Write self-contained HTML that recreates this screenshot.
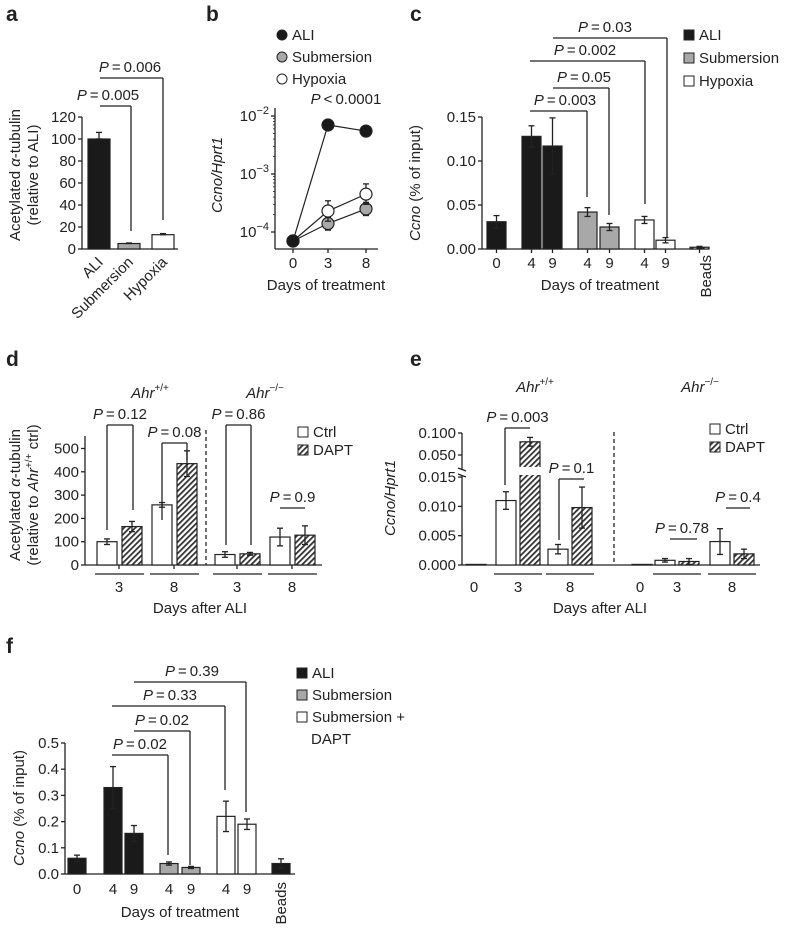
<!DOCTYPE html>
<html><head><meta charset="utf-8"><style>
body{margin:0;background:#fff}
svg{display:block;font-family:"Liberation Sans",sans-serif;font-size:15px}
.pl{font-weight:bold;font-size:21px}
</style></head><body>
<svg id="s" width="788" height="930" viewBox="0 0 788 930">
<defs><pattern id="hatch" width="4" height="4" patternUnits="userSpaceOnUse" patternTransform="rotate(45)"><rect width="4" height="4" fill="#fff"/><rect width="1.8" height="4" fill="#333"/></pattern></defs>
</svg>
<script>
// ---- Data ----
const aCats=["ALI","Submersion","Hypoxia"];
const aVals=[100,5,13];
const aErr=[6,0.5,1];
const aTicks=[0,20,40,60,80,100,120];
const bDays=[0,3,8];
const bALI=[7e-5,7e-3,5.5e-3];
const bSub=[7e-5,1.4e-4,2.5e-4];
const bHyp=[7e-5,2.3e-4,4.5e-4];
const bSubErr=[0,0.3,0.3];
const bHypErr=[0,0.5,0.5];
const cLabels=["0","4","9","4","9","4","9"];
const cVals=[0.031,0.128,0.117,0.042,0.025,0.033,0.010,0.002];
const cErr=[0.007,0.012,0.032,0.005,0.004,0.004,0.003,0.001];
const cTicks=[0,0.05,0.10,0.15];
const dCtrl=[100,258,45,120];
const dDapt=[165,435,48,128];
const dCtrlErr=[12,10,12,38];
const dDaptErr=[22,55,6,40];
const dTicks=[0,100,200,300,400,500];
const eCtrl=[0.0001,0.011,0.0027,0.0001,0.0008,0.004];
const eDapt=[null,0.08,0.0098,null,0.0006,0.0019];
const eCtrlErr=[0.0001,0.0015,0.0008,0.0001,0.0003,0.0022];
const eDaptErr=[0,0.01,0.0035,0,0.0005,0.0008];
const eTicksLow=[0,0.005,0.010,0.015];
const eTicksHigh=[0.050,0.100];
const fLabels=["0","4","9","4","9","4","9"];
const fVals=[0.06,0.33,0.155,0.04,0.025,0.22,0.19,0.04];
const fErr=[0.012,0.08,0.03,0.006,0.004,0.058,0.02,0.018];
const fTicks=[0,0.1,0.2,0.3,0.4,0.5];

const S=document.getElementById('s');const NS='http://www.w3.org/2000/svg';
function el(t,a,txt,p){const e=document.createElementNS(NS,t);for(const k in a)e.setAttribute(k,a[k]);if(txt!=null)e.innerHTML=txt;(p||S).appendChild(e);return e;}
function ln(x1,y1,x2,y2,extra){return el('line',Object.assign({x1,y1,x2,y2,stroke:'#222','stroke-width':1.3},extra||{}));}
function tx(x,y,s,anchor,extra){return el('text',Object.assign({x,y,'text-anchor':anchor||'middle',fill:'#222'},extra||{}),s);}
function bar(x,w,yTop,y0,fill,name){const r=el('rect',{x,y:yTop,width:w,height:Math.max(0,y0-yTop),fill,stroke:'#222','stroke-width':1.2});return r;}
function err(x,yv,yLo,yHi){ln(x,yLo,x,yHi);ln(x-3,yHi,x+3,yHi);ln(x-3,yLo,x+3,yLo);}
function bracket(x1,x2,y,d1,d2,label,tx0){ln(x1,y,x2,y);if(d1!=null)ln(x1,y,x1,d1);if(d2!=null)ln(x2,y,x2,d2);tx(tx0!=null?tx0:(x1+x2)/2,y-6,'<tspan font-style="italic">P</tspan>\u2009=\u2009'+label,'middle');}
function ytitle(x,y,s){return el('text',{x:0,y:0,transform:`translate(${x},${y}) rotate(-90)`,'text-anchor':'middle',fill:'#222'},s);}
function legSq(x,y,fill,label){const g=el('g',{});el('rect',{x,y:y-10,width:10,height:10,fill,stroke:'#222','stroke-width':1},null,g);el('text',{x:x+15,y,fill:'#222'},label,g);}
function legCirc(x,y,fill,label){const g=el('g',{});el('circle',{cx:x+5,cy:y-5,r:5,fill,stroke:'#222','stroke-width':1},null,g);el('text',{x:x+15,y,fill:'#222'},label,g);}
const colors={ali:'#1a1a1a',sub:'#a8a8a8',hyp:'#fff'};

// ---- Panel a ----
tx(6,21,'a','start',{class:'pl'});
{const y=v=>249-v*(132/120);const ax=82;
ln(ax,y(120),ax,y(0));ln(ax,y(0),178,y(0));
aTicks.forEach(t=>{ln(ax-4,y(t),ax,y(t));tx(ax-6,y(t)+5,t,'end');});
const xs=[88,118,152],fills=[colors.ali,colors.sub,colors.hyp];
aVals.forEach((v,i)=>{bar(xs[i],22,y(v),y(0),fills[i],'bar-'+aCats[i].toLowerCase());err(xs[i]+11,0,y(v),y(v+aErr[i]));
 el('text',{x:0,y:0,transform:`translate(${xs[i]+16},${y(0)+14}) rotate(-45)`,'text-anchor':'end',fill:'#222'},aCats[i]);});
bracket(100,131,106,null,231,'0.005',108);bracket(100,163,78,null,220,'0.006',130);
ytitle(20,175,'Acetylated <tspan font-style="italic">α</tspan>-tubulin');ytitle(38,175,'(relative to ALI)');}

// ---- Panel b ----
tx(206,21,'b','start',{class:'pl'});
{const y=v=>232-(Math.log10(v)+4)*58;const x=d=>[293,328,366][bDays.indexOf(d)];const ax=275;
ln(ax,108,ax,249);ln(ax,249,378,249);
[-4,-3,-2].forEach(p=>{ln(ax-4,y(Math.pow(10,p)),ax,y(Math.pow(10,p)));tx(ax-6,y(Math.pow(10,p))+5,'10<tspan dy="-7" font-size="11">−'+(-p)+'</tspan>','end');
 for(let k=2;k<10&&p<-2;k++)ln(ax-2,y(k*Math.pow(10,p)),ax,y(k*Math.pow(10,p)),{'stroke-width':0.8});});
bDays.forEach(d=>{ln(x(d),249,x(d),253);tx(x(d),268,d);});
tx(326,290,'Days of treatment');
el('text',{x:0,y:0,transform:'translate(222,175) rotate(-90)','text-anchor':'middle',fill:'#222','font-style':'italic'},'Ccno/Hprt1');
const series=[[bSub,colors.sub,bSubErr,'submersion'],[bHyp,colors.hyp,bHypErr,'hypoxia'],[bALI,colors.ali,null,'ali']];
series.forEach(([vals,f,e,n])=>{const pts=vals.map((v,i)=>x(bDays[i])+','+y(v)).join(' ');
 const pl=el('polyline',{points:pts,fill:'none',stroke:'#222','stroke-width':1.2});
 vals.forEach((v,i)=>{if(e&&e[i]){err(x(bDays[i]),0,y(v/(1+e[i])),y(v*(1+e[i])));}
  const c=el('circle',{cx:x(bDays[i]),cy:y(v),r:6,fill:f,stroke:'#222','stroke-width':1.2});});});
tx(346,104,'<tspan font-style="italic">P</tspan>\u2009&lt;\u20090.0001');
legCirc(277,40,colors.ali,'ALI');legCirc(277,62,colors.sub,'Submersion');legCirc(277,84,colors.hyp,'Hypoxia');}

// ---- Panel c ----
tx(410,21,'c','start',{class:'pl'});
{const y=v=>249-v*(132/0.15);const ax=482;
ln(ax,y(0.15),ax,y(0));ln(ax,y(0),708,y(0));
cTicks.forEach(t=>{ln(ax-4,y(t),ax,y(t));tx(ax-6,y(t)+5,t.toFixed(2),'end');});
const xs=[487,522,543,578,600,635,656,690],fills=[colors.ali,colors.ali,colors.ali,colors.sub,colors.sub,colors.hyp,colors.hyp,'url(#hatch)'];
cVals.forEach((v,i)=>{bar(xs[i],19,y(v),y(0),fills[i],'bar-c-'+i);err(xs[i]+9.5,0,y(v-cErr[i]),y(v+cErr[i]));ln(xs[i]+9.5,249,xs[i]+9.5,253);
 if(i<7)tx(xs[i]+9.5,268,cLabels[i]);});
el('text',{x:0,y:0,transform:'translate(711,255) rotate(-90)','text-anchor':'end',fill:'#222'},'Beads');
tx(600,290,'Days of treatment');
ytitle(420,183,'<tspan font-style="italic">Ccno</tspan> (% of input)');
bracket(530,587,111,null,197,'0.003',565);bracket(553,609,88,null,215,'0.05',584);
bracket(530,645,61,null,204,'0.002',585);bracket(553,667,38,null,237,'0.03',605);
legSq(684,40,colors.ali,'ALI');legSq(684,63,colors.sub,'Submersion');legSq(684,86,colors.hyp,'Hypoxia');}

// ---- Panel d ----
tx(6,366,'d','start',{class:'pl'});
{const y=v=>565-v*0.233;const ax=85;
ln(ax,436,ax,565);ln(ax,565,322,565);
dTicks.forEach(t=>{ln(ax-4,y(t),ax,y(t));tx(ax-6,y(t)+5,t,'end');});
const xc=[97,152,215,270];
dCtrl.forEach((v,i)=>{bar(xc[i],20,y(v),565,'#fff','bar-d-ctrl-'+i);err(xc[i]+10,0,y(v-dCtrlErr[i]),y(v+dCtrlErr[i]));
 bar(xc[i]+25,20,y(dDapt[i]),565,'url(#hatch)','bar-d-dapt-'+i);err(xc[i]+35,0,y(dDapt[i]-dDaptErr[i]),y(dDapt[i]+dDaptErr[i]));
 ln(xc[i]-2,574,xc[i]+47,574);tx(xc[i]+22,592,['3','8','3','8'][i]);ln(xc[i]+22,565,xc[i]+22,569);});
ln(206,430,206,565,{'stroke-dasharray':'4,3'});
tx(200,613,'Days after ALI');
tx(150,398,'<tspan font-style="italic">Ahr</tspan><tspan dy="-7" font-size="10">+/+</tspan>');
tx(265,398,'<tspan font-style="italic">Ahr</tspan><tspan dy="-7" font-size="10">−/−</tspan>');
bracket(107,133,425,530,510,'0.12');bracket(162,187,443,520,460,'0.08');
bracket(226,251,425,545,545,'0.86');
bracket(280,305,508,null,null,'0.9');
ytitle(20,495,'Acetylated <tspan font-style="italic">α</tspan>-tubulin');
ytitle(38,495,'(relative to <tspan font-style="italic">Ahr</tspan><tspan dy="-6" font-size="10">+/+</tspan><tspan dy="6"> ctrl)</tspan>');
legSq(298,437,'#fff','Ctrl');legSq(298,455,'url(#hatch)','DAPT');}

// ---- Panel e ----
tx(410,366,'e','start',{class:'pl'});
{const yl=v=>565-v*(29.3/0.005);const yh=v=>433+(0.1-v)*(22/0.05);const y=v=>v>0.02?yh(v):yl(v);const ax=462;
ln(ax,433,ax,470);ln(ax,476,ax,565);ln(ax-4,468,ax+4,471);ln(ax-4,474,ax+4,477);ln(ax,565,760,565);
eTicksLow.forEach(t=>{ln(ax-4,yl(t),ax,yl(t));tx(ax-6,yl(t)+5,t.toFixed(3),'end');});
eTicksHigh.forEach(t=>{ln(ax-4,yh(t),ax,yh(t));tx(ax-6,yh(t)+5,t.toFixed(3),'end');});
const xc=[466,496,548,632,655,710],lbl=['0','3','8','0','3','8'];
eCtrl.forEach((v,i)=>{bar(xc[i],20,y(v),565,'#fff','bar-e-ctrl-'+i);if(i%3)err(xc[i]+10,0,y(v-eCtrlErr[i]),y(v+eCtrlErr[i]));
 if(eDapt[i]!=null){const d=eDapt[i];bar(xc[i]+24,20,y(d),565,'url(#hatch)','bar-e-dapt-'+i);err(xc[i]+34,0,y(d-eDaptErr[i]),y(d+eDaptErr[i]));}
 if(i%3){ln(xc[i]-2,574,xc[i]+46,574);tx(xc[i]+22,592,lbl[i]);}else tx(xc[i]+8,592,lbl[i]);});
el('rect',{x:516,y:467,width:26,height:8,fill:'#fff'});
ln(614,432,614,565,{'stroke-dasharray':'4,3'});
tx(600,613,'Days after ALI');
tx(535,392,'<tspan font-style="italic">Ahr</tspan><tspan dy="-7" font-size="10">+/+</tspan>');
tx(700,392,'<tspan font-style="italic">Ahr</tspan><tspan dy="-7" font-size="10">−/−</tspan>');
bracket(505,530,428,485,null,'0.003');bracket(559,584,479,540,null,'0.1');
bracket(670,697,539,null,null,'0.78',682);bracket(726,750,508,null,null,'0.4',738);
el('text',{x:0,y:0,transform:'translate(395,498) rotate(-90)','text-anchor':'middle',fill:'#222','font-style':'italic'},'Ccno/Hprt1');
legSq(710,434,'#fff','Ctrl');legSq(710,452,'url(#hatch)','DAPT');}

// ---- Panel f ----
tx(6,653,'f','start',{class:'pl'});
{const y=v=>874-v*(131/0.5);const ax=65;
ln(ax,y(0.5),ax,y(0));ln(ax,y(0),295,y(0));
fTicks.forEach(t=>{ln(ax-4,y(t),ax,y(t));tx(ax-6,y(t)+5,t.toFixed(1),'end');});
const xs=[68,104,125,160,182,217,238,272],fills=[colors.ali,colors.ali,colors.ali,colors.sub,colors.sub,colors.hyp,colors.hyp,colors.ali];
fVals.forEach((v,i)=>{bar(xs[i],18,y(v),y(0),fills[i],'bar-f-'+i);err(xs[i]+9,0,y(v-fErr[i]),y(v+fErr[i]));
 if(i<7)tx(xs[i]+9,894,fLabels[i]);});
el('text',{x:0,y:0,transform:'translate(286,882) rotate(-90)','text-anchor':'end',fill:'#222'},'Beads');
tx(180,917,'Days of treatment');
ytitle(24,808,'<tspan font-style="italic">Ccno</tspan> (% of input)');
bracket(112,168,755,null,855,'0.02',140);bracket(134,190,731,null,865,'0.02',162);
bracket(112,225,706,null,790,'0.33',170);bracket(134,246,682,null,812,'0.39',192);
legSq(297,678,colors.ali,'ALI');legSq(297,700,colors.sub,'Submersion');legSq(297,722,colors.hyp,'Submersion +');tx(311,744,'DAPT','start');}
</script>
</body></html>
